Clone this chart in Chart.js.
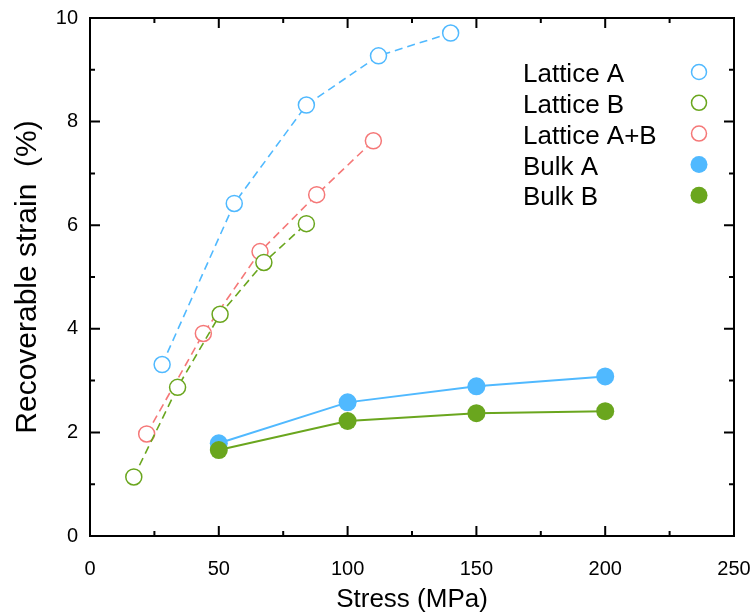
<!DOCTYPE html>
<html>
<head>
<meta charset="utf-8">
<script src="https://cdn.jsdelivr.net/npm/chart.js@4.4.1/dist/chart.umd.min.js"></script>
<style>
  html, body { margin: 0; padding: 0; background: #fff; }
  #wrap { width: 754px; height: 615px; }
</style>
</head>
<body>
<div id="wrap"><canvas id="strainchart"></canvas></div>
<script>
// stress (MPa) and recoverable strain (%)
var latticeAStress = [28, 56, 84, 112, 140];
var latticeAStrain = [3.31, 6.42, 8.32, 9.27, 9.71];
var latticeBStress = [17, 34, 50.5, 67.5, 84];
var latticeBStrain = [1.14, 2.87, 4.28, 5.28, 6.03];
var latticeABStress = [22, 44, 66, 88, 110];
var latticeABStrain = [1.97, 3.91, 5.49, 6.59, 7.63];
var bulkStress = [50, 100, 150, 200];
var bulkAStrain = [1.79, 2.58, 2.89, 3.08];
var bulkBStrain = [1.66, 2.22, 2.37, 2.41];

var xTicks = [0, 50, 100, 150, 200, 250];
var yTicks = [0, 2, 4, 6, 8, 10];

var seriesNames = ['Lattice A', 'Lattice B', 'Lattice A+B', 'Bulk A', 'Bulk B'];

var blue = 'rgb(80, 185, 255)';
var green = 'rgb(106, 166, 30)';
var red = 'rgb(245, 120, 120)';
var fontFamily = '"Liberation Sans", Arial, sans-serif';

function pairs(xs, ys) {
    return xs.map(function (x, i) { return { x: x, y: ys[i] }; });
}

function latticeSet(label, xs, ys, color) {
    return {
        label: label,
        data: pairs(xs, ys),
        borderColor: color,
        borderWidth: 1.6,
        borderDash: [8, 5],
        pointRadius: 8,
        pointBorderWidth: 1.5,
        pointBorderColor: color,
        pointBackgroundColor: '#fff',
        fill: false,
        order: 2
    };
}

function bulkSet(label, ys, color, order) {
    return {
        label: label,
        data: pairs(bulkStress, ys),
        borderColor: color,
        borderWidth: 2,
        pointRadius: 9,
        pointBorderWidth: 0,
        pointBackgroundColor: color,
        fill: false,
        order: order
    };
}

// box frame with inward major/minor ticks on all four sides
var framePlugin = {
    id: 'frame',
    beforeDatasetsDraw: function (chart) {
        var ctx = chart.ctx, a = chart.chartArea;
        var x = chart.scales.x, y = chart.scales.y;
        ctx.save();
        ctx.strokeStyle = '#000';
        ctx.lineWidth = 2;
        ctx.strokeRect(a.left, a.top, a.right - a.left, a.bottom - a.top);
        ctx.beginPath();
        for (var v = 0; v <= 250; v += 25) {
            var len = v % 50 === 0 ? 10 : 5;
            var px = x.getPixelForValue(v);
            ctx.moveTo(px, a.bottom); ctx.lineTo(px, a.bottom - len);
            ctx.moveTo(px, a.top); ctx.lineTo(px, a.top + len);
        }
        for (var w = 0; w <= 10; w += 1) {
            var l2 = w % 2 === 0 ? 10 : 5;
            var py = y.getPixelForValue(w);
            ctx.moveTo(a.left, py); ctx.lineTo(a.left + l2, py);
            ctx.moveTo(a.right, py); ctx.lineTo(a.right - l2, py);
        }
        ctx.stroke();
        ctx.restore();
    }
};

// legend: text on the left, marker on the right
var legendPlugin = {
    id: 'sideLegend',
    afterDraw: function (chart) {
        var ctx = chart.ctx;
        var colors = [blue, green, red, blue, green];
        ctx.save();
        ctx.font = '26px ' + fontFamily;
        ctx.textBaseline = 'middle';
        for (var i = 0; i < seriesNames.length; i++) {
            var cy = 72 + i * 30.8;
            ctx.fillStyle = '#000';
            ctx.fillText(seriesNames[i], 523, cy + 3);
            ctx.beginPath();
            ctx.arc(699, cy, i < 3 ? 7.5 : 8.5, 0, Math.PI * 2);
            if (i < 3) {
                ctx.strokeStyle = colors[i];
                ctx.lineWidth = 1.5;
                ctx.stroke();
            } else {
                ctx.fillStyle = colors[i];
                ctx.fill();
            }
        }
        ctx.restore();
    }
};

function initStrainChart() {
    var ctx = document.getElementById('strainchart').getContext('2d');
    var chart = new Chart(ctx, {
        type: 'line',
        data: {
            datasets: [
                latticeSet(seriesNames[0], latticeAStress, latticeAStrain, blue),
                latticeSet(seriesNames[1], latticeBStress, latticeBStrain, green),
                latticeSet(seriesNames[2], latticeABStress, latticeABStrain, red),
                bulkSet(seriesNames[3], bulkAStrain, blue, 1),
                bulkSet(seriesNames[4], bulkBStrain, green, 0)
            ]
        },
        options: {
            responsive: true,
            maintainAspectRatio: false,
            animation: false,
            layout: { padding: { top: 18, right: 20, left: 0, bottom: 0 } },
            plugins: {
                legend: { display: false },
                tooltip: { enabled: false }
            },
            scales: {
                x: {
                    type: 'linear',
                    min: 0,
                    max: 250,
                    afterFit: function (s) { s.height = 79; s.paddingLeft = 0; s.paddingRight = 0; },
                    afterBuildTicks: function (s) { s.ticks = xTicks.map(function (v) { return { value: v }; }); },
                    grid: { display: false, drawTicks: false },
                    border: { display: false },
                    ticks: { color: '#000', padding: 21, font: { family: fontFamily, size: 20 } },
                    title: {
                        display: true,
                        text: 'Stress (MPa)',
                        color: '#000',
                        padding: { top: 0, bottom: 0 },
                        font: { family: fontFamily, size: 26 }
                    }
                },
                y: {
                    min: 0,
                    max: 10,
                    afterFit: function (s) { s.width = 90; s.paddingTop = 0; s.paddingBottom = 0; },
                    afterBuildTicks: function (s) { s.ticks = yTicks.map(function (v) { return { value: v }; }); },
                    grid: { display: false, drawTicks: false },
                    border: { display: false },
                    ticks: { color: '#000', padding: 12, font: { family: fontFamily, size: 20 } },
                    title: {
                        display: true,
                        text: 'Recoverable strain  (%)',
                        color: '#000',
                        padding: { top: 10, bottom: 0 },
                        font: { family: fontFamily, size: 30 }
                    }
                }
            }
        },
        plugins: [framePlugin, legendPlugin]
    });
    return chart;
}

initStrainChart();
</script>
</body>
</html>
